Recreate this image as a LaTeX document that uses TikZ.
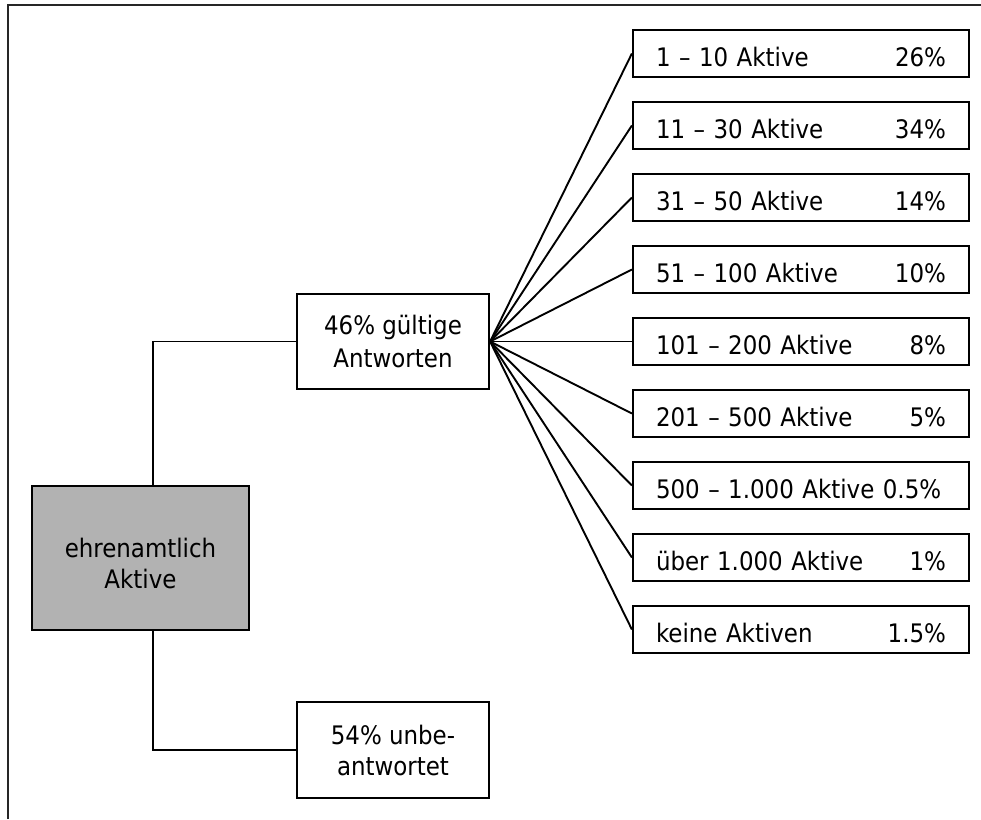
\documentclass[tikz,border=0pt]{standalone}
\usepackage{fontspec}
\setmainfont{DejaVu Sans Condensed}
\definecolor{boxgray}{RGB}{178,178,178}
\tikzset{
  box/.style={draw=black, line width=2.2pt, fill=white, align=center,
    inner sep=0pt, font=\fontsize{25.5}{31}\selectfont},
  rangebox/.style={box, minimum width=336pt, minimum height=47pt,
    text width=290pt, align=left, text height=26pt, text depth=0pt},
  link/.style={draw=black, line width=1.9pt},
}
\begin{document}
\begin{tikzpicture}[x=1pt, y=-1pt]
  \useasboundingbox (0,0) rectangle (981,819);
  % frame (top and left edges)
  \draw[line width=2pt, black!85] (8,819) -- (8,5) -- (981,5);

  % main nodes
  \node[box, fill=boxgray, minimum width=217pt, minimum height=144pt]
    (root) at (140.5,558) {\rule{0pt}{30pt}ehrenamtlich\\Aktive};
  \node[box, minimum width=192pt, minimum height=95pt,
    font=\fontsize{25.5}{33}\selectfont]
    (valid) at (393,341.5) {46\% gültige\\Antworten};
  \node[box, minimum width=192pt, minimum height=96pt]
    (none) at (393,750) {54\% unbe-\\antwortet};

  % answer categories
  \node[rangebox] (r1) at (801,53.5)  {1 – 10 Aktive\hfill 26\%};
  \node[rangebox] (r2) at (801,125.5) {11 – 30 Aktive\hfill 34\%};
  \node[rangebox] (r3) at (801,197.5) {31 – 50 Aktive\hfill 14\%};
  \node[rangebox] (r4) at (801,269.5) {51 – 100 Aktive\hfill 10\%};
  \node[rangebox] (r5) at (801,341.5) {101 – 200 Aktive\hfill 8\%};
  \node[rangebox] (r6) at (801,413.5) {201 – 500 Aktive\hfill 5\%};
  \node[rangebox] (r7) at (801,485.5) {\mbox{500 – 1.000 Aktive 0.5\%}};
  \node[rangebox] (r8) at (801,557.5) {über 1.000 Aktive\hfill 1\%};
  \node[rangebox] (r9) at (801,629.5) {keine Aktiven\hfill 1.5\%};

  % tree connectors
  \draw[link] ([xshift=12.5pt]root.north) |- (valid.west);
  \draw[link] ([xshift=12.5pt]root.south) |- (none.west);
  \foreach \r in {r1,r2,r3,r4,r5,r6,r7,r8,r9}
    \draw[link] (valid.east) -- (\r.west);
\end{tikzpicture}
\end{document}
